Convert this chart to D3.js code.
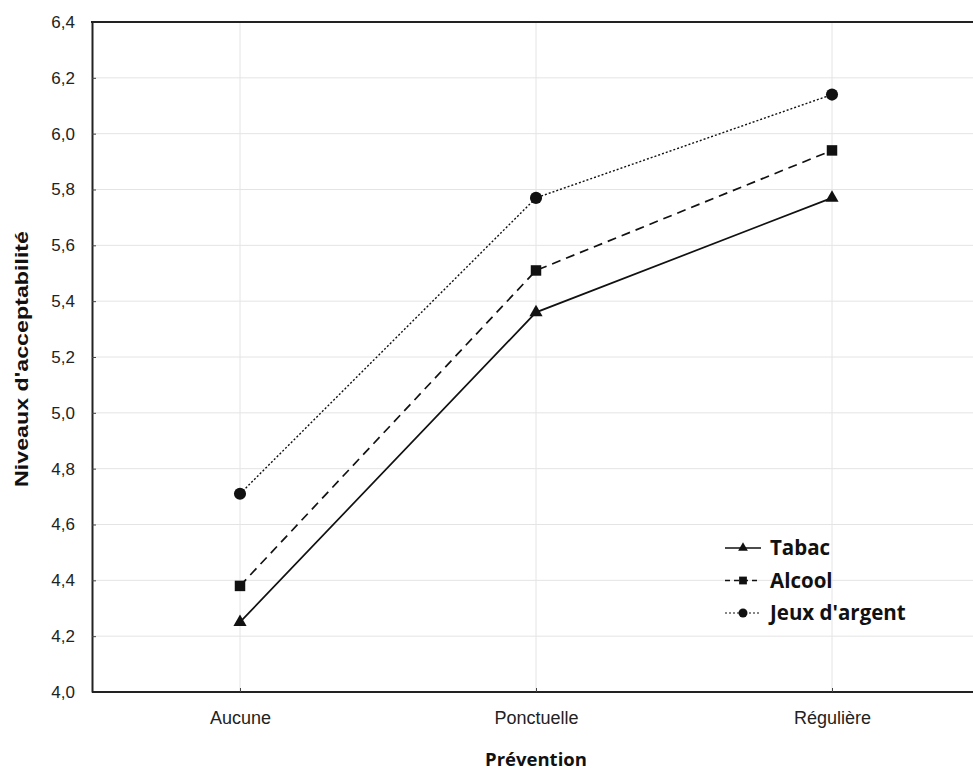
<!DOCTYPE html>
<html><head><meta charset="utf-8">
<script src="https://cdn.jsdelivr.net/npm/d3@7"></script>
<style>body{margin:0;background:#fff}svg{display:block}</style>
</head><body>
<script>
const categories = ["Aucune", "Ponctuelle", "Régulière"];
const tabac = [4.25, 5.36, 5.77];
const alcool = [4.38, 5.51, 5.94];
const jeux = [4.71, 5.77, 6.14];
const seriesNames = ["Tabac", "Alcool", "Jeux d'argent"];
const yTicks = [4.0, 4.2, 4.4, 4.6, 4.8, 5.0, 5.2, 5.4, 5.6, 5.8, 6.0, 6.2, 6.4];

const W = 973, H = 774;
const m = {left: 92, top: 22, right: -7, bottom: 82};
const svg = d3.select("body").append("svg").attr("width", W).attr("height", H);
const x = d3.scalePoint().domain(categories).range([m.left, W - m.right]).padding(0.5);
const y = d3.scaleLinear().domain([4.0, 6.4]).range([H - m.bottom, m.top]);

// grid
svg.append("g").selectAll("line").data(yTicks.slice(1)).join("line")
  .attr("x1", m.left).attr("x2", W).attr("y1", d => y(d)).attr("y2", d => y(d))
  .attr("stroke", "#e4e4e4").attr("stroke-width", 1);
svg.append("g").selectAll("line").data(categories).join("line")
  .attr("x1", d => x(d)).attr("x2", d => x(d)).attr("y1", m.top).attr("y2", H - m.bottom)
  .attr("stroke", "#e4e4e4").attr("stroke-width", 1);

// axes
const fmt = d => d.toFixed(1).replace(".", ",");
const ya = svg.append("g").attr("transform", `translate(${m.left},0)`)
  .call(d3.axisLeft(y).tickValues(yTicks).tickFormat(fmt).tickSizeInner(-4).tickSizeOuter(0).tickPadding(17));
ya.select(".domain").attr("stroke", "#222").attr("stroke-width", 2);
ya.selectAll(".tick line").attr("stroke", "#444");
ya.selectAll("text").attr("font-family", "Liberation Sans, Arial, sans-serif").attr("font-size", 17).attr("fill", "#222");

const xa = svg.append("g").attr("transform", `translate(0,${H - m.bottom})`)
  .call(d3.axisBottom(x).tickSizeInner(-4).tickSizeOuter(0).tickPadding(19));
xa.select(".domain").attr("stroke", "#222").attr("stroke-width", 2).attr("d", `M${m.left},0H${W}`);
xa.selectAll(".tick line").attr("stroke", "#444");
xa.selectAll("text").attr("font-family", "Liberation Sans, Arial, sans-serif").attr("font-size", 18).attr("fill", "#222");

// top border
svg.append("line").attr("x1", m.left - 1).attr("x2", W).attr("y1", m.top).attr("y2", m.top)
  .attr("stroke", "#222").attr("stroke-width", 2);

// series
const series = [
  {name: seriesNames[0], values: tabac, dash: null, sym: d3.symbolTriangle, size: 75},
  {name: seriesNames[1], values: alcool, dash: "9,6", sym: d3.symbolSquare, size: 110},
  {name: seriesNames[2], values: jeux, dash: "2,2", sym: d3.symbolCircle, size: 115}
];
const line = d3.line().x((d, i) => x(categories[i])).y(d => y(d));
series.forEach(s => {
  svg.append("path").attr("d", line(s.values)).attr("fill", "none")
    .attr("stroke", "#111").attr("stroke-width", s.dash === "2,2" ? 1.4 : 1.7)
    .attr("stroke-dasharray", s.dash);
  svg.append("g").selectAll("path").data(s.values).join("path")
    .attr("transform", (d, i) => `translate(${x(categories[i])},${y(d)})`)
    .attr("d", d3.symbol().type(s.sym).size(s.size)).attr("fill", "#111");
});

// legend
const lg = svg.append("g");
series.forEach((s, i) => {
  const ly = 548 + i * 32.5;
  lg.append("line").attr("x1", 725).attr("x2", 761).attr("y1", ly).attr("y2", ly)
    .attr("stroke", "#111").attr("stroke-width", s.dash === "2,2" ? 1.2 : 1.7)
    .attr("stroke-dasharray", s.dash === "9,6" ? "5,4" : s.dash);
  lg.append("path").attr("transform", `translate(743,${ly})`)
    .attr("d", d3.symbol().type(s.sym).size(s.size * 0.55)).attr("fill", "#111");
  lg.append("text").attr("x", 770).attr("y", ly + 7).text(s.name)
    .attr("font-family", "Open Sans, sans-serif").attr("font-weight", "bold")
    .attr("font-size", 20.5).attr("fill", "#111");
});

// titles
svg.append("text").attr("transform", `translate(28,359) rotate(-90)`)
  .attr("text-anchor", "middle").text("Niveaux d'acceptabilité")
  .attr("textLength", 256).attr("lengthAdjust", "spacingAndGlyphs")
  .attr("font-family", "Liberation Sans, Arial, sans-serif").attr("font-weight", "bold")
  .attr("font-size", 18).attr("fill", "#111");
svg.append("text").attr("x", x("Ponctuelle")).attr("y", 766).attr("text-anchor", "middle")
  .text("Prévention").attr("font-family", "Open Sans, sans-serif").attr("font-weight", "bold")
  .attr("font-size", 18.5).attr("fill", "#111");
</script>
</body></html>
